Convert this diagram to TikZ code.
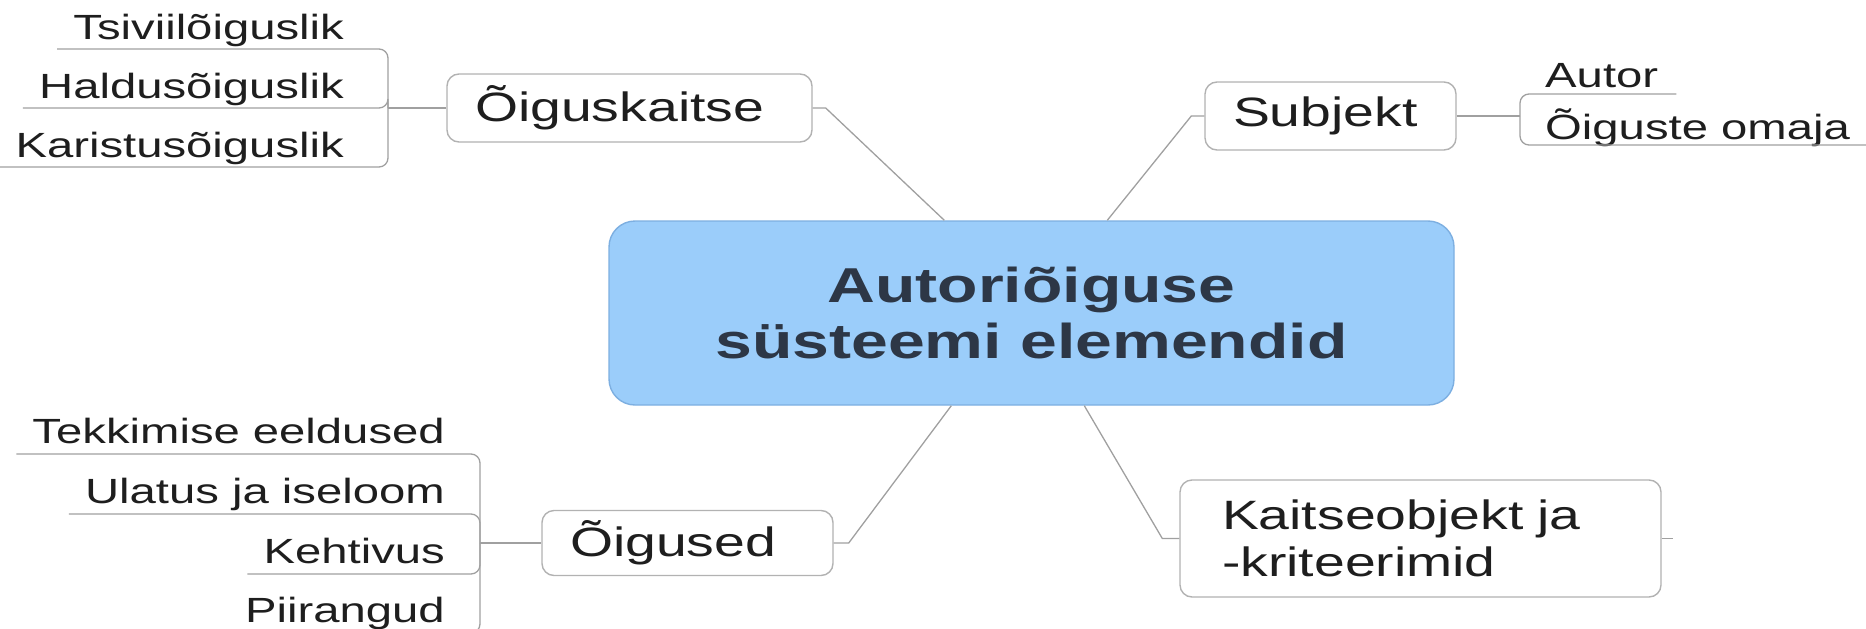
\documentclass[tikz,border=0pt]{standalone}
\usepackage{fontspec}
\setmainfont{Liberation Sans}[FakeStretch=1.35]
\usetikzlibrary{calc}
\definecolor{linegray}{RGB}{160,160,160}
\definecolor{boxgray}{RGB}{178,178,178}
\definecolor{cenfill}{RGB}{155,205,250}
\definecolor{cenborder}{RGB}{125,175,225}
\definecolor{txt}{RGB}{30,30,30}
\definecolor{centxt}{RGB}{45,55,70}
\begin{document}
\begin{tikzpicture}[x=1pt,y=-1pt,
  conn/.style={draw=linegray, line width=1.3pt},
  uline/.style={conn, rounded corners=9pt},
  leaf/.style={inner sep=0pt, font=\fontsize{35}{40}\selectfont, text=txt},
  topic/.style={draw=boxgray, line width=1.4pt, rounded corners=12pt, fill=white,
    inner xsep=28pt, inner ysep=0pt, align=left, font=\fontsize{41}{47}\selectfont, text=txt},
  cenbox/.style={draw=cenborder, fill=cenfill, line width=1.4pt, rounded corners=26pt,
    align=center, inner sep=0pt, font=\bfseries\fontsize{49}{56}\selectfont, text=centxt}]
\useasboundingbox (0,0) rectangle (1866,629);

% central
\node[cenbox, minimum width=845pt, minimum height=184pt] (cen) at (1031.5,313) {Autoriõiguse\\süsteemi elemendid};

% main topics
\node[topic, text width=309pt, minimum height=68pt] (oks) at (629.5,108) {Õiguskaitse};
\node[topic, text width=195pt, minimum height=68pt] (subj) at (1330.5,116) {Subjekt};
\node[topic, text width=235pt, minimum height=65pt] (oig) at (687.5,543) {Õigused};
\node[topic, inner xsep=42pt, text width=397pt, minimum height=117pt] (kob) at (1420.5,538.5) {Kaitseobjekt ja\\-kriteerimid};

% top-left leaves
\node[leaf, anchor=base east] (t1) at (344,39) {Tsiviilõiguslik};
\node[leaf, anchor=base east] (t2) at (344,98) {Haldusõiguslik};
\node[leaf, anchor=base east] (t3) at (344,157) {Karistusõiguslik};
\coordinate (hubTL) at (388,108);
\draw[uline] (hubTL) |- ($(t1.base west)+(-16,10)$);
\draw[uline] (hubTL) |- ($(t2.base west)+(-16,10)$);
\draw[uline] (hubTL) |- ($(t3.base west)+(-16,10)$);
\draw[conn] (hubTL) -- (oks.west);

% right leaves
\node[leaf, anchor=base west] (r1) at (1545,87) {Autor};
\node[leaf, anchor=base west] (r2) at (1545,139) {Õiguste omaja};
\coordinate (hubR) at (1520,116);
\draw[uline] (hubR) |- ($(r1.base east)+(18,7)$);
\draw[uline] (hubR) |- ($(r2.base east)+(18,6)$);
\draw[conn] (subj.east) -- (hubR);

% bottom-left leaves
\node[leaf, anchor=base east] (b1) at (445,443) {Tekkimise eeldused};
\node[leaf, anchor=base east] (b2) at (445,503) {Ulatus ja iseloom};
\node[leaf, anchor=base east] (b3) at (445,563) {Kehtivus};
\node[leaf, anchor=base east] (b4) at (445,622) {Piirangud};
\coordinate (hubBL) at (480,543);
\draw[uline] (hubBL) |- ($(b1.base west)+(-16,11)$);
\draw[uline] (hubBL) |- ($(b2.base west)+(-16,11)$);
\draw[uline] (hubBL) |- ($(b3.base west)+(-16,11)$);
\draw[uline] (hubBL) |- ($(b4.base west)+(-16,11)$);
\draw[conn] (hubBL) -- (oig.west);

% connectors to the centre
\draw[conn] (oks.east) -- ([xshift=13pt]oks.east) -- ([xshift=336pt]cen.north west);
\draw[conn] ([xshift=499pt]cen.north west) -- ([xshift=-13pt]subj.west) -- (subj.west);
\draw[conn] (oig.east) -- ([xshift=15pt]oig.east) -- ([xshift=343pt]cen.south west);
\draw[conn] ([xshift=476pt]cen.south west) -- ([xshift=-17pt]kob.west) -- (kob.west);
\coordinate (kstub) at ([xshift=11pt]kob.east);
\draw[conn] (kob.east) -- (kstub);
\end{tikzpicture}
\end{document}
